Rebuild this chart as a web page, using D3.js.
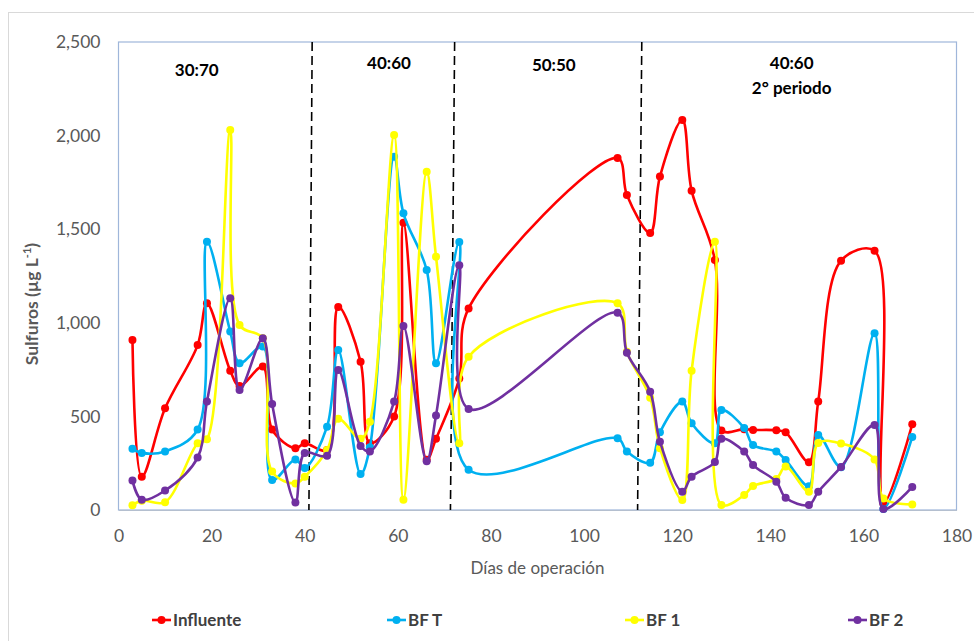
<!DOCTYPE html>
<html><head><meta charset="utf-8">
<script src="https://cdn.jsdelivr.net/npm/d3@7"></script>
<style>
body{margin:0;background:#fff}
svg{display:block}
text{font-family:Lato,"Open Sans",sans-serif}
</style>
</head><body>
<svg id="c" width="974" height="641"></svg>
<script>
// ---- data ----
const days = [3,5,10,17,19,24,26,31,33,38,40,44.8,47.2,52,54,59.2,61.2,66.2,68.2,73.2,75.2,107.2,109.2,114.2,116.3,121.1,123.1,128.1,129.5,134.4,136.3,141.3,143.3,148.3,150.3,155.2,162.4,164.3,170.5];
const influente = [908,178,543,881,1104,744,662,766,430,330,356,320,1085,792,357,500,1535,268,380,703,1077,1880,1683,1480,1781,2083,1706,1335,425,432,428,426,415,255,579,1332,1385,36,458];
const bfT = [327,305,313,430,1433,953,784,873,160,270,225,445,855,192,335,1887,1585,1282,784,1432,215,383,312,253,415,579,463,356,534,438,347,312,267,127,401,229,944,5,390];
const bf1 = [25,50,42,356,378,2030,988,917,205,142,178,320,487,380,472,2003,55,1807,1353,356,819,1104,846,600,330,53,744,1433,27,80,128,166,232,98,358,355,270,62,30];
const bf2 = [157,55,104,280,579,1131,641,917,566,40,305,290,748,342,313,579,983,260,505,1308,540,1054,840,632,365,98,178,256,380,312,240,151,65,27,98,230,454,5,123];
const seriesNames = ["Influente","BF T","BF 1","BF 2"];
const xTicks = [0,20,40,60,80,100,120,140,160,180];
const yTicks = [0,500,1000,1500,2000,2500];
const dividerTop = [41.6,72.2,112.4];
const dividerBottom = [40.9,71.3,111.5];
const periodDays = [16.8,58.1,93.5,144.6];
const periodText = [["30:70"],["40:60"],["50:50"],["40:60","2° periodo"]];

// ---- layout ----
const svg = d3.select("#c");
const L=118.5, R=956.5, T=42, B=510;
const x = d3.scaleLinear().domain([0,180]).range([L,R]);
const y = d3.scaleLinear().domain([0,2500]).range([B,T]);
const colors = ["#ff0000","#00b0f0","#ffff00","#7030a0"];
const allSeries = [influente,bfT,bf1,bf2];

// outer chart frame
svg.append("rect").attr("x",8.5).attr("y",12.5).attr("width",1000).attr("height",700)
  .attr("fill","none").attr("stroke","#d9d9d9");

// plot border
svg.append("rect").attr("x",L).attr("y",T).attr("width",R-L).attr("height",B-T)
  .attr("fill","none").attr("stroke","#9fb6da").attr("stroke-width",1.2);

// axes
const xAxis = svg.append("g").attr("transform",`translate(0,${B})`)
  .call(d3.axisBottom(x).tickValues(xTicks).tickSize(0).tickPadding(20).tickFormat(d3.format("d")));
xAxis.select(".domain").attr("stroke","#b4bfcf");
xAxis.selectAll("text").attr("font-size",17.5).attr("fill","#595959");

const yAxis = svg.append("g").attr("transform",`translate(${L},0)`)
  .call(d3.axisLeft(y).tickValues(yTicks).tickSize(0).tickPadding(18).tickFormat(d3.format(",")));
yAxis.select(".domain").remove();
yAxis.selectAll("text").attr("font-size",17.5).attr("fill","#595959");

// axis titles
svg.append("text").attr("x",(L+R)/2).attr("y",574).attr("text-anchor","middle")
  .attr("font-size",17).attr("fill","#595959").text("Días de operación");
const yt = svg.append("text").attr("transform","translate(38,304) rotate(-90)")
  .attr("text-anchor","middle").attr("font-size",17.5).attr("font-weight","bold").attr("fill","#595959");
yt.append("tspan").text("Sulfuros (µg L");
yt.append("tspan").attr("dy",-7).attr("font-size",11).text("-1");
yt.append("tspan").attr("dy",7).text(")");

// period dividers
dividerTop.forEach((d,i)=>{
  svg.append("line").attr("x1",x(d)).attr("y1",T).attr("x2",x(dividerBottom[i])).attr("y2",B)
    .attr("stroke","#000").attr("stroke-width",1.6).attr("stroke-dasharray","9,5");
});

// period labels
const labelY = [76,69,71,69];
periodText.forEach((lines,i)=>{
  lines.forEach((t,j)=>{
    svg.append("text").attr("x",x(periodDays[i])).attr("y",labelY[i]+j*25)
      .attr("text-anchor","middle").attr("font-size",17).attr("font-weight","bold").attr("fill","#000").text(t);
  });
});

// series
const line = d3.line().x(d=>x(d[0])).y(d=>y(d[1])).curve(d3.curveCatmullRom.alpha(0.5));
allSeries.forEach((vals,i)=>{
  const pts = days.map((d,k)=>[d,vals[k]]);
  const g = svg.append("g");
  g.append("path").attr("d",line(pts)).attr("fill","none").attr("stroke",colors[i])
    .attr("stroke-width",2.6).attr("stroke-linejoin","round");
  g.selectAll("circle").data(pts).join("circle")
    .attr("cx",d=>x(d[0])).attr("cy",d=>y(d[1])).attr("r",4).attr("fill",colors[i]);
});

// legend
const legX = [152,387,625,848];
seriesNames.forEach((n,i)=>{
  const g = svg.append("g").attr("transform",`translate(${legX[i]},620)`);
  g.append("line").attr("x1",0).attr("x2",19).attr("stroke",colors[i]).attr("stroke-width",2.6);
  g.append("circle").attr("cx",9.5).attr("r",4).attr("fill",colors[i]);
  g.append("text").attr("x",21).attr("y",6).attr("font-size",17).attr("font-weight","bold")
    .attr("fill","#404040").text(n);
});
</script>
</body></html>
